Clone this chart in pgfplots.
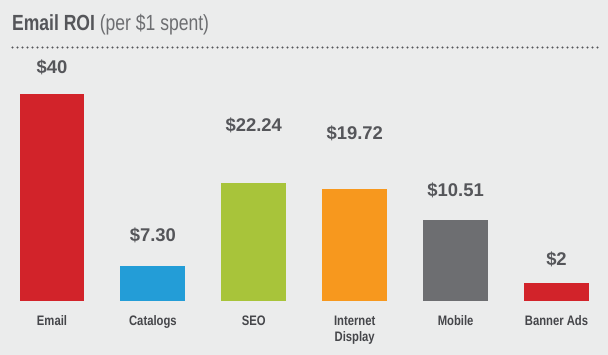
\documentclass[border=0pt]{standalone}
\usepackage{fontspec}
\setmainfont{Liberation Sans}
\newfontfamily\titlefont{Liberation Sans}[FakeStretch=0.8]
\newfontfamily\condfont{Liberation Sans}[FakeStretch=0.82]
\usepackage{pgfplots}
\pgfplotsset{compat=1.18}
\definecolor{bg}{HTML}{EBECEC}
\definecolor{cred}{HTML}{D2232A}
\definecolor{cblue}{HTML}{239DD7}
\definecolor{cgreen}{HTML}{A8C43A}
\definecolor{corange}{HTML}{F7981E}
\definecolor{cgray}{HTML}{6D6E71}
\definecolor{txt}{HTML}{55565A}
\definecolor{dtxt}{HTML}{45464A}
\definecolor{ltxt}{HTML}{6D6E71}
\begin{document}
\begin{tikzpicture}
\fill[bg] (0,0) rectangle (608bp,355bp);
\useasboundingbox (0,0) rectangle (608bp,355bp);
\node[anchor=base west, inner sep=0, text=txt] at (12bp,324bp)
  {\titlefont\fontsize{22}{26}\selectfont\bfseries Email ROI \mdseries\color{ltxt}(per \$1 spent)};
\draw[txt, line width=2.4bp, line cap=round, dash pattern=on 0bp off 5bp] (12.5bp,307.5bp) -- (601bp,307.5bp);
\begin{axis}[
  at={(1.55bp,54bp)}, anchor=south west,
  scale only axis, width=605.4bp, height=250bp,
  xmin=-0.5, xmax=5.5, ymin=0, ymax=250,
  clip=false,
  axis line style={draw=none},
  major tick length=0pt,
  ytick=\empty,
  xtick={0,1,2,3,4,5},
  xticklabels={Email, Catalogs, SEO, {Internet\\Display}, Mobile, Banner Ads},
  xticklabel style={align=center, anchor=north, inner sep=0pt, yshift=-14.8bp,
    text=dtxt, font=\condfont\bfseries\fontsize{13.8}{16.5}\selectfont},
]
\addplot[ybar, bar shift=0pt, bar width=0.644, fill=cred, draw=none] coordinates {(0,207)};
\addplot[ybar, bar shift=0pt, bar width=0.644, fill=cblue, draw=none] coordinates {(1,34.5)};
\addplot[ybar, bar shift=0pt, bar width=0.644, fill=cgreen, draw=none] coordinates {(2,118)};
\addplot[ybar, bar shift=0pt, bar width=0.644, fill=corange, draw=none] coordinates {(3,111.5)};
\addplot[ybar, bar shift=0pt, bar width=0.644, fill=cgray, draw=none] coordinates {(4,81)};
\addplot[ybar, bar shift=0pt, bar width=0.644, fill=cred, draw=none] coordinates {(5,17.5)};
\addplot[only marks, mark=none, point meta=explicit symbolic,
  nodes near coords={\$\pgfplotspointmeta},
  every node near coord/.append style={anchor=center, inner sep=0pt, text=txt,
    font=\bfseries\fontsize{18.5}{22}\selectfont}]
  table[meta=label] {
x y label
0 234 40
1 66 7.30
2 175.5 22.24
3 168 19.72
4 110.5 10.51
5 41.5 2
};
\end{axis}
\end{tikzpicture}
\end{document}
